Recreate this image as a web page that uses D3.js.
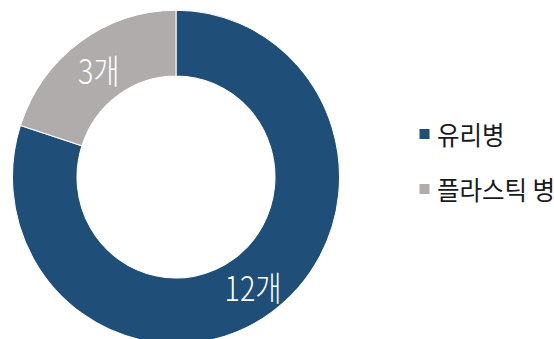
<!DOCTYPE html>
<html>
<head>
<meta charset="utf-8">
<script src="https://cdn.jsdelivr.net/npm/d3@7"></script>
<style>
  html, body { margin: 0; padding: 0; background: #ffffff; }
  svg { display: block; }
</style>
</head>
<body>
<svg id="chart" width="554" height="339"></svg>
<script>
const categories = ["유리병", "플라스틱 병"];
const values = [12, 3];
const labels = ["12개", "3개"];
const colors = ["#1F4E79", "#AFACAB"];

const svg = d3.select("#chart");
const cx = 176, cy = 177, outerR = 163.5, innerR = 99, stretchY = 1.02;
const fontFam = "'Noto Sans CJK KR', 'Noto Sans', sans-serif";

const data = categories.map((c, i) => ({ name: c, value: values[i], label: labels[i], color: colors[i] }));
const pie = d3.pie().sort(null).value(d => d.value);
const arc = d3.arc().innerRadius(innerR).outerRadius(outerR);

const g = svg.append("g").attr("transform", `translate(${cx},${cy}) scale(1,${stretchY})`);
const arcs = pie(data);

g.selectAll("path").data(arcs).join("path")
  .attr("d", arc)
  .attr("fill", d => d.data.color)
  .attr("stroke", "#ffffff")
  .attr("stroke-width", 1);

g.selectAll("text").data(arcs).join("text")
  .attr("transform", d => { const [x, y] = arc.centroid(d); return `translate(${x},${y}) scale(0.87,1.03)`; })
  .attr("text-anchor", "middle")
  .attr("dominant-baseline", "central")
  .attr("fill", "#ffffff")
  .attr("font-family", fontFam)
  .attr("font-weight", 300)
  .attr("font-size", 33)
  .text(d => d.data.label);

const ly = [134, 189];
const items = svg.append("g").selectAll("g").data(data).join("g")
  .attr("transform", (d, i) => `translate(419.5,${ly[i]})`);
items.append("rect")
  .attr("x", 0).attr("y", -5).attr("width", 10).attr("height", 10)
  .attr("fill", d => d.color);
items.append("text")
  .attr("transform", "translate(17.5,0) scale(1,1.05)")
  .attr("dominant-baseline", "central")
  .attr("fill", "#1a1a1a")
  .attr("font-family", fontFam)
  .attr("font-size", 24.5)
  .text(d => d.name);
</script>
</body>
</html>
